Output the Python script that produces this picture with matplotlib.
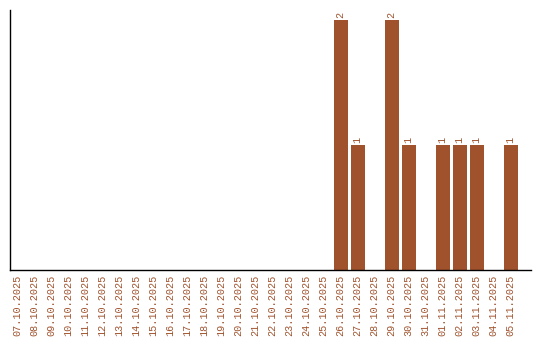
import matplotlib
matplotlib.use("Agg")
import matplotlib.pyplot as plt

dates = ["07.10.2025","08.10.2025","09.10.2025","10.10.2025","11.10.2025","12.10.2025",
         "13.10.2025","14.10.2025","15.10.2025","16.10.2025","17.10.2025","18.10.2025",
         "19.10.2025","20.10.2025","21.10.2025","22.10.2025","23.10.2025","24.10.2025",
         "25.10.2025","26.10.2025","27.10.2025","28.10.2025","29.10.2025","30.10.2025",
         "31.10.2025","01.11.2025","02.11.2025","03.11.2025","04.11.2025","05.11.2025"]
counts = [0,0,0,0,0,0,0,0,0,0,0,0,0,0,0,0,0,0,0,2,1,0,2,1,0,1,1,1,0,1]

color = "#A0522D"
plt.rcParams['font.family'] = ['Liberation Mono', 'DejaVu Sans Mono']

fig = plt.figure(figsize=(5.4, 3.4), dpi=100)
ax = fig.add_axes([10/540, 1-270/340, 521/540, 260/340])
x = list(range(len(dates)))
ax.bar(x, counts, width=0.82, color=color)
for xi, c in zip(x, counts):
    if c > 0:
        ax.text(xi, c + 0.015, str(c), rotation=90, ha='center', va='bottom',
                fontsize=7.3, color=color)
ax.set_xlim(-0.45, 30.2)
ax.set_ylim(0, 2.08)
ax.set_xticks(x)
ax.set_xticklabels(dates, rotation=90, fontsize=7.3, color=color)
ax.tick_params(axis='x', length=0, pad=3.5)
ax.set_yticks([])
for s in ['top', 'right']:
    ax.spines[s].set_visible(False)
ax.spines['left'].set_linewidth(1)
ax.spines['bottom'].set_linewidth(1)
fig.savefig("out.png", dpi=100)
